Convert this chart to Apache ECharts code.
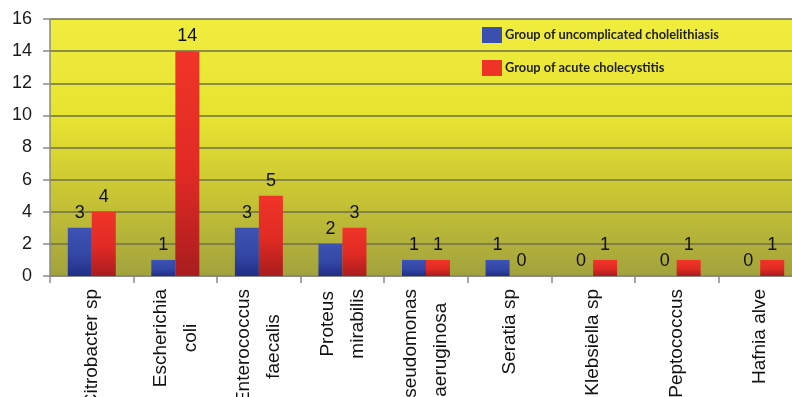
<!DOCTYPE html>
<html>
<head>
<meta charset="utf-8">
<script src="https://cdn.jsdelivr.net/npm/echarts@6/dist/echarts.min.js"></script>
<style>
  html, body { margin: 0; padding: 0; background: #ffffff; }
  #chart { width: 792px; height: 397px; }
</style>
</head>
<body>
<div id="chart"></div>
<script>
// Bacterial species isolated in each patient group
const categories = [
  'Citrobacter sp',
  'Escherichia\ncoli',
  'Enterococcus\nfaecalis',
  'Proteus\nmirabilis',
  'Pseudomonas\naeruginosa',
  'Seratia sp',
  'Klebsiella sp',
  'Peptococcus',
  'Hafnia alve'
];
const seriesNames = ['Group of uncomplicated cholelithiasis', 'Group of acute cholecystitis'];
const uncomplicatedCounts = [3, 1, 3, 2, 1, 1, 0, 0, 0];
const acuteCounts = [4, 14, 5, 3, 1, 0, 1, 1, 1];
const yMin = 0, yMax = 16, yStep = 2;

const vGrad = (stops) => ({
  type: 'linear', x: 0, y: 0, x2: 0, y2: 1,
  colorStops: stops.map(([offset, color]) => ({ offset, color }))
});

const blueFill = vGrad([[0, '#3d52b2'], [0.55, '#3347a6'], [1, '#222d86']]);
const redFill = vGrad([[0, '#f03528'], [0.55, '#e02a24'], [1, '#a81d1e']]);

const valueLabel = {
  show: true,
  position: 'top',
  distance: 6,
  fontFamily: 'Liberation Sans, Arial, sans-serif',
  fontSize: 18,
  color: '#111111'
};

const chart = echarts.init(document.getElementById('chart'), null, { renderer: 'canvas' });

chart.setOption({
  animation: false,
  backgroundColor: '#ffffff',
  grid: {
    left: 50,
    right: -10,
    top: 19,
    bottom: 121,
    containLabel: false,
    outerBoundsMode: 'none',
    show: true,
    borderWidth: 0,
    backgroundColor: vGrad([[0, '#f1ed3d'], [0.4, '#e6e230'], [0.7, '#c6c334'], [1, '#a2a23e']])
  },
  legend: {
    orient: 'vertical',
    left: 482,
    top: 27,
    padding: 0,
    itemWidth: 20,
    itemHeight: 16,
    itemGap: 17,
    icon: 'rect',
    textStyle: {
      fontFamily: 'Lato, sans-serif',
      fontWeight: 'bold',
      fontSize: 12.8,
      color: '#1e1e1e',
      padding: [0, 0, 0, -2]
    },
    data: [
      { name: seriesNames[0], itemStyle: { color: '#3a4fae' } },
      { name: seriesNames[1], itemStyle: { color: '#ee3427' } }
    ]
  },
  xAxis: {
    type: 'category',
    data: categories,
    axisLine: { show: true, lineStyle: { color: '#8a8a8a', width: 1.5 } },
    axisTick: { show: true, length: 7, inside: false, lineStyle: { color: '#8a8a8a', width: 1.5 } },
    axisLabel: {
      interval: 0,
      rotate: 90,
      margin: 13,
      hideOverlap: false,
      color: '#111111',
      fontFamily: 'Liberation Sans, Arial, sans-serif',
      fontSize: 19,
      lineHeight: 30,
      formatter: (v) => v.split('\n').map((s) => '{c|' + s + '}').join('\n'),
      rich: {
        c: {
          align: 'center',
          fontFamily: 'Liberation Sans, Arial, sans-serif',
          fontSize: 19,
          lineHeight: 30,
          color: '#111111'
        }
      }
    },
    splitLine: { show: false }
  },
  yAxis: {
    type: 'value',
    min: yMin,
    max: yMax,
    interval: yStep,
    axisLine: { show: true, lineStyle: { color: '#8a8a8a', width: 1.5 } },
    axisTick: { show: true, length: 7, lineStyle: { color: '#8a8a8a', width: 1.5 } },
    axisLabel: {
      margin: 18,
      color: '#1a1a1a',
      fontFamily: 'Liberation Sans, Arial, sans-serif',
      fontSize: 18
    },
    splitLine: { show: true, lineStyle: { color: '#6f6f4c', width: 1.5 } }
  },
  series: [
    {
      name: seriesNames[0],
      type: 'bar',
      data: uncomplicatedCounts,
      barWidth: 24,
      barGap: '0%',
      itemStyle: { color: blueFill },
      label: valueLabel
    },
    {
      name: seriesNames[1],
      type: 'bar',
      data: acuteCounts,
      barWidth: 24,
      barGap: '0%',
      itemStyle: { color: redFill },
      label: valueLabel
    }
  ]
});
</script>
</body>
</html>
